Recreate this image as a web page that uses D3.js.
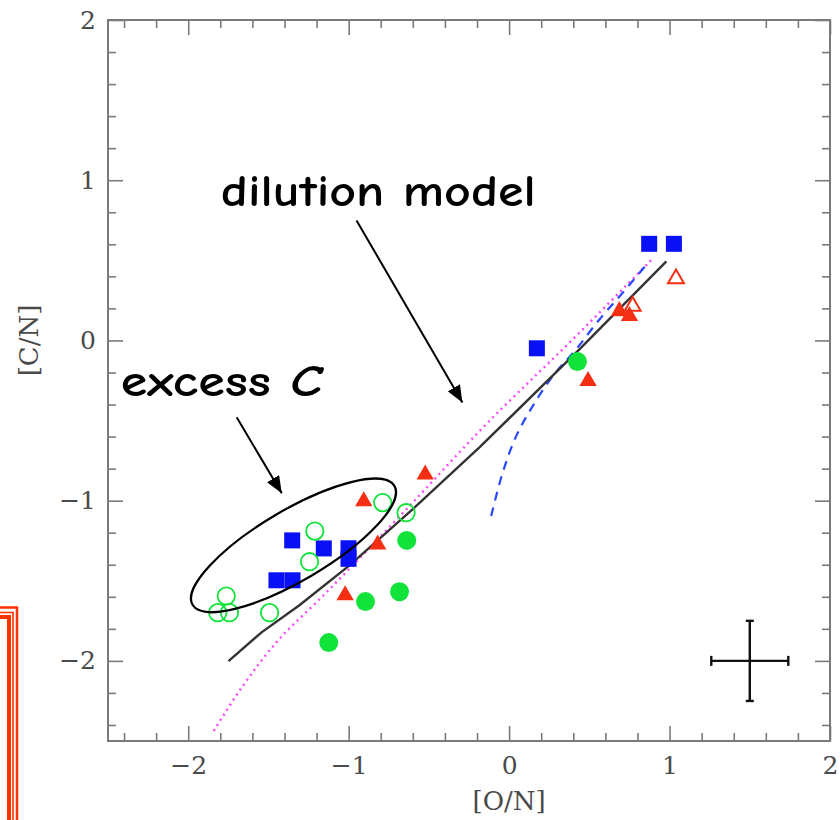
<!DOCTYPE html>
<html>
<head>
<meta charset="utf-8">
<script src="https://cdn.jsdelivr.net/npm/d3@7"></script>
<style>
  body { margin: 0; background: #fff; }
  svg { display: block; }
  .tick text { font-family: "DejaVu Serif", "Liberation Serif", serif; fill: #4a4a4a; }
</style>
</head>
<body>
<svg id="svg" width="840" height="820"></svg>
<script>
// [O/N], [C/N] pairs
let blueSquares = [[-1.352, -1.248], [-1.155, -1.298], [-1.001, -1.297], [-1.001, -1.363],
  [-1.450, -1.497], [-1.350, -1.497], [0.873, 0.603], [1.027, 0.603], [0.173, -0.049]];
let greenOpen = [[-1.211, -1.190], [-1.244, -1.381], [-0.788, -1.012], [-0.642, -1.075],
  [-1.763, -1.595], [-1.816, -1.699], [-1.743, -1.699], [-1.493, -1.699]];
let greenFilled = [[-0.638, -1.248], [-0.895, -1.630], [-0.683, -1.568], [-1.124, -1.886], [0.426, -0.132]];
let redFilled = [[-0.906, -1.003], [-0.523, -0.836], [-0.819, -1.273], [-1.022, -1.591],
  [0.492, -0.253], [0.687, 0.183], [0.750, 0.152]];
let redOpen = [[0.770, 0.214], [1.040, 0.385]];

// model curves
let dilutionModel = [[-1.749, -2.002], [-1.543, -1.822], [-1.307, -1.653], [-0.995, -1.404],
  [-0.602, -1.054], [-0.185, -0.668], [0.438, -0.056], [0.980, 0.493]];
let magentaModel = [[-1.841, -2.437], [-1.660, -2.157], [-1.452, -1.886], [-1.182, -1.616],
  [-0.601, -1.012], [-0.185, -0.566], [0.438, 0.048], [0.885, 0.501]];
let blueModel = [[-0.112, -1.096], [-0.040, -0.825], [0.044, -0.597], [0.147, -0.410],
  [0.272, -0.223], [0.417, -0.056], [0.563, 0.131], [0.708, 0.298], [0.874, 0.495]];

// typical error bar
let errorBar = { x: 1.5, y: -2.0, dx: 0.24, dy: 0.25 };

let majorTicks = [-2, -1, 0, 1, 2];
let xDomain = [-2.5, 2], yDomain = [-2.5, 2];

let svg = d3.select("svg");
let plotLeft = 108, plotRight = 830, plotTop = 20, plotBottom = 741;

let x = d3.scaleLinear().domain(xDomain).range([plotLeft, plotRight]);
let y = d3.scaleLinear().domain(yDomain).range([plotBottom, plotTop]);

let minorTicks = d3.range(-2.4, 2.0001, 0.2).filter(v => Math.abs(v - Math.round(v)) > 0.01);

// decorative slide border, bottom-left
let deco = svg.append("g").attr("fill", "none").attr("stroke", "#ff3300");
deco.append("path").attr("d", "M0,607.5H17V820").attr("stroke-width", 2.5);
deco.append("path").attr("d", "M0,612.5H13V820").attr("stroke-width", 1.6);
deco.append("path").attr("d", "M0,617H9V820").attr("stroke-width", 4);

let frameColor = "#7a7a7a";

function addAxis(axis, transform, labels) {
  let g = svg.append("g").attr("transform", transform).call(axis);
  g.select(".domain").remove();
  g.selectAll(".tick line").attr("stroke", frameColor).attr("stroke-width", 1.6);
  if (!labels) g.selectAll(".tick text").remove();
  return g;
}

let fmt = d3.format("d");
// bottom / left with labels
addAxis(d3.axisBottom(x).tickValues(majorTicks).tickSizeInner(-15).tickSizeOuter(0).tickPadding(15).tickFormat(fmt),
  `translate(0,${plotBottom})`, true).selectAll("text").attr("font-size", 25);
addAxis(d3.axisLeft(y).tickValues(majorTicks).tickSizeInner(-15).tickSizeOuter(0).tickPadding(12).tickFormat(fmt),
  `translate(${plotLeft},0)`, true).selectAll("text").attr("font-size", 25);
addAxis(d3.axisBottom(x).tickValues(minorTicks).tickSizeInner(-8).tickSizeOuter(0), `translate(0,${plotBottom})`, false);
addAxis(d3.axisLeft(y).tickValues(minorTicks).tickSizeInner(-8).tickSizeOuter(0), `translate(${plotLeft},0)`, false);
// top / right, ticks only
addAxis(d3.axisTop(x).tickValues(majorTicks).tickSizeInner(-15).tickSizeOuter(0), `translate(0,${plotTop})`, false);
addAxis(d3.axisRight(y).tickValues(majorTicks).tickSizeInner(-15).tickSizeOuter(0), `translate(${plotRight},0)`, false);
addAxis(d3.axisTop(x).tickValues(minorTicks).tickSizeInner(-8).tickSizeOuter(0), `translate(0,${plotTop})`, false);
addAxis(d3.axisRight(y).tickValues(minorTicks).tickSizeInner(-8).tickSizeOuter(0), `translate(${plotRight},0)`, false);

svg.append("rect")
   .attr("x", plotLeft).attr("y", plotTop)
   .attr("width", plotRight - plotLeft).attr("height", plotBottom - plotTop)
   .attr("fill", "none").attr("stroke", frameColor).attr("stroke-width", 2);

// axis titles
svg.append("text")
   .attr("x", x(0)).attr("y", 810)
   .attr("text-anchor", "middle")
   .attr("font-family", "DejaVu Serif, serif").attr("font-size", 26).attr("fill", "#4a4a4a")
   .text("[O/N]");
svg.append("text")
   .attr("transform", `translate(38,${y(0)}) rotate(-90)`)
   .attr("text-anchor", "middle")
   .attr("font-family", "DejaVu Serif, serif").attr("font-size", 26).attr("fill", "#4a4a4a")
   .text("[C/N]");

let line = d3.line().x(d => x(d[0])).y(d => y(d[1])).curve(d3.curveMonotoneX);

svg.append("path").datum(magentaModel)
   .attr("fill", "none").attr("stroke", "#ff44ff").attr("stroke-width", 2.4)
   .attr("stroke-dasharray", "2,4").attr("d", line);
svg.append("path").datum(blueModel)
   .attr("fill", "none").attr("stroke", "#2a48ff").attr("stroke-width", 2.2)
   .attr("stroke-dasharray", "9,7").attr("d", d3.line().x(d => x(d[0])).y(d => y(d[1])).curve(d3.curveCatmullRom));
svg.append("path").datum(dilutionModel)
   .attr("fill", "none").attr("stroke", "#333").attr("stroke-width", 2.4)
   .attr("d", d3.line().x(d => x(d[0])).y(d => y(d[1])));

// markers
let blue = "#0a10f5", green = "#11e33a", red = "#f52f14";
svg.append("g").selectAll("rect").data(blueSquares).join("rect")
   .attr("x", d => x(d[0]) - 8).attr("y", d => y(d[1]) - 8)
   .attr("width", 16).attr("height", 16).attr("fill", blue);
svg.append("g").selectAll("circle").data(greenFilled).join("circle")
   .attr("cx", d => x(d[0])).attr("cy", d => y(d[1])).attr("r", 9.5).attr("fill", green);
svg.append("g").selectAll("circle").data(greenOpen).join("circle")
   .attr("cx", d => x(d[0])).attr("cy", d => y(d[1])).attr("r", 8.7)
   .attr("fill", "none").attr("stroke", green).attr("stroke-width", 1.8);
let tri = d3.symbol().type(d3.symbolTriangle).size(130);
svg.append("g").selectAll("path").data(redFilled).join("path")
   .attr("transform", d => `translate(${x(d[0])},${y(d[1])})`)
   .attr("d", tri).attr("fill", red);
svg.append("g").selectAll("path").data(redOpen).join("path")
   .attr("transform", d => `translate(${x(d[0])},${y(d[1])})`)
   .attr("d", d3.symbol().type(d3.symbolTriangle).size(110))
   .attr("fill", "none").attr("stroke", red).attr("stroke-width", 2);

// error bar
let eb = svg.append("g").attr("stroke", "#111").attr("stroke-width", 2.4);
eb.append("line").attr("x1", x(errorBar.x)).attr("x2", x(errorBar.x))
  .attr("y1", y(errorBar.y - errorBar.dy)).attr("y2", y(errorBar.y + errorBar.dy));
eb.append("line").attr("x1", x(errorBar.x - errorBar.dx)).attr("x2", x(errorBar.x + errorBar.dx))
  .attr("y1", y(errorBar.y)).attr("y2", y(errorBar.y));
[errorBar.y - errorBar.dy, errorBar.y + errorBar.dy].forEach(v => {
  eb.append("line").attr("x1", x(errorBar.x) - 4).attr("x2", x(errorBar.x) + 4).attr("y1", y(v)).attr("y2", y(v));
});
[errorBar.x - errorBar.dx, errorBar.x + errorBar.dx].forEach(v => {
  eb.append("line").attr("y1", y(errorBar.y) - 5).attr("y2", y(errorBar.y) + 5).attr("x1", x(v)).attr("x2", x(v));
});

// annotations
let ann = { ellipse: { cx: -1.344, cy: -1.279, a: 0.73, b: 0.22, angle: -30.5 } };
let e = ann.ellipse;
svg.append("ellipse")
   .attr("transform", `translate(${x(e.cx)},${y(e.cy)}) rotate(${e.angle})`)
   .attr("rx", x(e.a) - x(0)).attr("ry", x(e.b) - x(0))
   .attr("fill", "none").attr("stroke", "#000").attr("stroke-width", 2.2);

svg.append("defs").append("marker")
   .attr("id", "head").attr("viewBox", "0 0 10 10").attr("refX", 10).attr("refY", 5)
   .attr("markerWidth", 17).attr("markerHeight", 14).attr("markerUnits", "userSpaceOnUse")
   .attr("orient", "auto").attr("preserveAspectRatio", "none")
   .append("path").attr("d", "M0,0L10,5L0,10z").attr("fill", "#000");

let arrows = [[[-0.951, 0.749], [-0.291, -0.387]], [[-1.698, -0.480], [-1.417, -0.954]]];
svg.append("g").selectAll("line").data(arrows).join("line")
   .attr("x1", d => x(d[0][0])).attr("y1", d => y(d[0][1]))
   .attr("x2", d => x(d[1][0])).attr("y2", d => y(d[1][1]))
   .attr("stroke", "#000").attr("stroke-width", 2).attr("marker-end", "url(#head)");

let labelFont = "'Comic Sans MS', 'Comic Neue', 'DejaVu Sans', sans-serif";
svg.append("text")
   .attr("x", x(-1.797)).attr("y", y(0.836))
   .attr("font-family", labelFont).attr("font-weight", "bold").attr("font-size", 45)
   .attr("textLength", 315).attr("lengthAdjust", "spacingAndGlyphs")
   .text("dilution model");
let ex = svg.append("text")
   .attr("x", x(-2.421)).attr("y", y(-0.349))
   .attr("font-family", labelFont).attr("font-weight", "bold").attr("font-size", 45)
   .attr("textLength", 201).attr("lengthAdjust", "spacingAndGlyphs");
ex.append("tspan").text("excess ");
ex.append("tspan").attr("font-style", "italic").text("C");
</script>
</body>
</html>
